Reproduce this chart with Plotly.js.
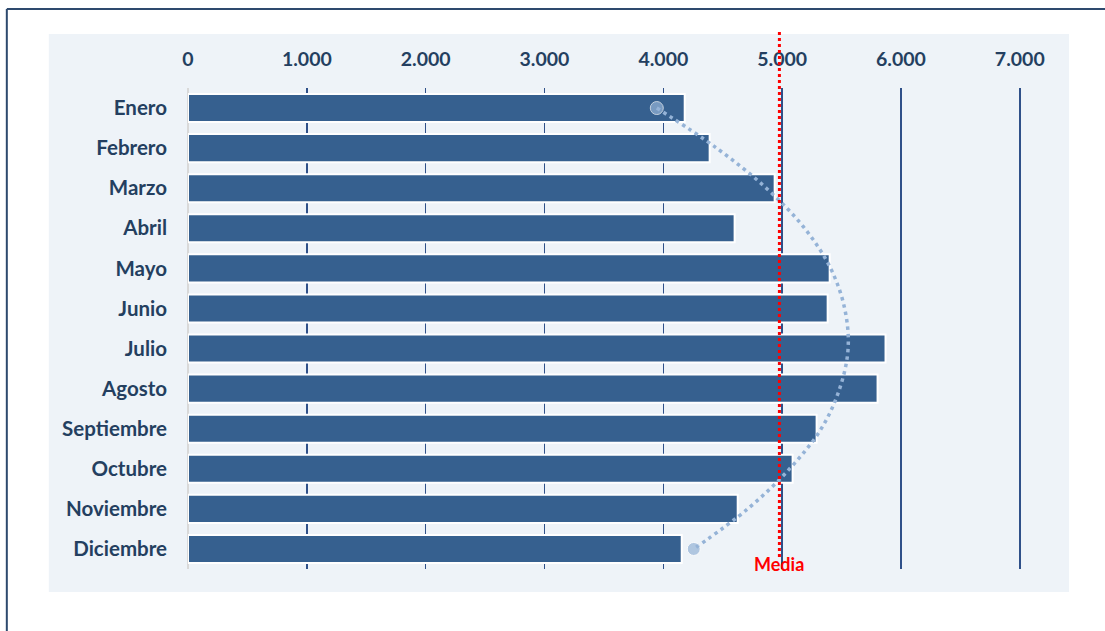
<!DOCTYPE html>
<html>
<head>
<meta charset="utf-8">
<script src="https://cdn.plot.ly/plotly-3.0.1.min.js"></script>
<style>
  html, body { margin: 0; padding: 0; background: #ffffff; }
  #chart { width: 1105px; height: 631px; }
</style>
</head>
<body>
<div id="chart"></div>
<script>
const months = ["Enero", "Febrero", "Marzo", "Abril", "Mayo", "Junio", "Julio", "Agosto", "Septiembre", "Octubre", "Noviembre", "Diciembre"];
const values = [4180, 4390, 4937, 4600, 5400, 5383, 5870, 5803, 5290, 5088, 4626, 4155];
const trend = [3945, 4449, 4867, 5189, 5408, 5526, 5555, 5484, 5329, 5063, 4710, 4256];
const tickValues = [0, 1000, 2000, 3000, 4000, 5000, 6000, 7000];
const tickLabels = ["0", "1.000", "2.000", "3.000", "4.000", "5.000", "6.000", "7.000"];
const meanLabel = "Media";

const mean = values.reduce((a, b) => a + b, 0) / values.length;

const navy = "#243f60";
const font = "Lato, 'Open Sans', sans-serif";

const bars = {
  type: "bar",
  orientation: "h",
  y: months,
  x: values,
  marker: { color: "#36608f", line: { color: "#ffffff", width: 2 } },
  hoverinfo: "skip"
};

const trendLine = {
  type: "scatter",
  mode: "lines+markers",
  y: months,
  x: trend,
  line: { color: "#95b3d7", width: 3.5, dash: "3.5px,4px", shape: "spline" },
  marker: { color: "#95b3d7", size: trend.map((v, i) => (i === 0 || i === trend.length - 1) ? 13 : 0) },
  hoverinfo: "skip"
};

const layout = {
  width: 1105,
  height: 631,
  margin: { l: 188, r: 84, t: 88, b: 62 },
  paper_bgcolor: "#ffffff",
  plot_bgcolor: "rgba(0,0,0,0)",
  showlegend: false,
  bargap: 0.3,
  font: { family: font, color: navy },
  xaxis: {
    side: "top",
    range: [0, 7010],
    tickvals: tickValues,
    ticktext: tickLabels,
    tickfont: { family: font, size: 19.5, color: navy, weight: "bold" },
    ticklabelstandoff: 17,
    showgrid: true,
    gridcolor: "#2f5089",
    gridwidth: 1.5,
    zeroline: true,
    zerolinecolor: "#d9d9d9",
    zerolinewidth: 2,
    showline: false,
    ticks: "",
    fixedrange: true
  },
  yaxis: {
    type: "category",
    range: [11.5, -0.5],
    tickfont: { family: font, size: 20.5, color: navy, weight: "bold" },
    ticklabelstandoff: 20,
    showgrid: false,
    zeroline: false,
    showline: false,
    ticks: "",
    fixedrange: true
  },
  shapes: [
    { type: "rect", xref: "paper", yref: "paper", x0: -0.1671, x1: 1.0577, y0: -0.0478, y1: 1.1123,
      fillcolor: "#eef3f8", line: { width: 0 }, layer: "below" },
    { type: "line", xref: "paper", yref: "paper", x0: -0.2175, x1: -0.2175, y0: -0.3, y1: 1.1642,
      line: { color: "#2e4a6e", width: 2 } },
    { type: "line", xref: "paper", yref: "paper", x0: -0.2175, x1: 1.2, y0: 1.1642, y1: 1.1642,
      line: { color: "#2e4a6e", width: 2 } },
    { type: "line", xref: "x", yref: "paper", x0: mean, x1: mean, y0: 0.025, y1: 1.1164,
      line: { color: "#ff0000", width: 3, dash: "3px,3px" }, layer: "above" }
  ],
  annotations: [
    { x: mean, xref: "x", y: 0.01, yref: "paper", text: "<b>" + meanLabel + "</b>", showarrow: false,
      xanchor: "center", yanchor: "middle",
      font: { family: font, size: 18, color: "#ff0000" } }
  ]
};

Plotly.newPlot("chart", [bars, trendLine], layout, { displayModeBar: false, staticPlot: true });
</script>
</body>
</html>
